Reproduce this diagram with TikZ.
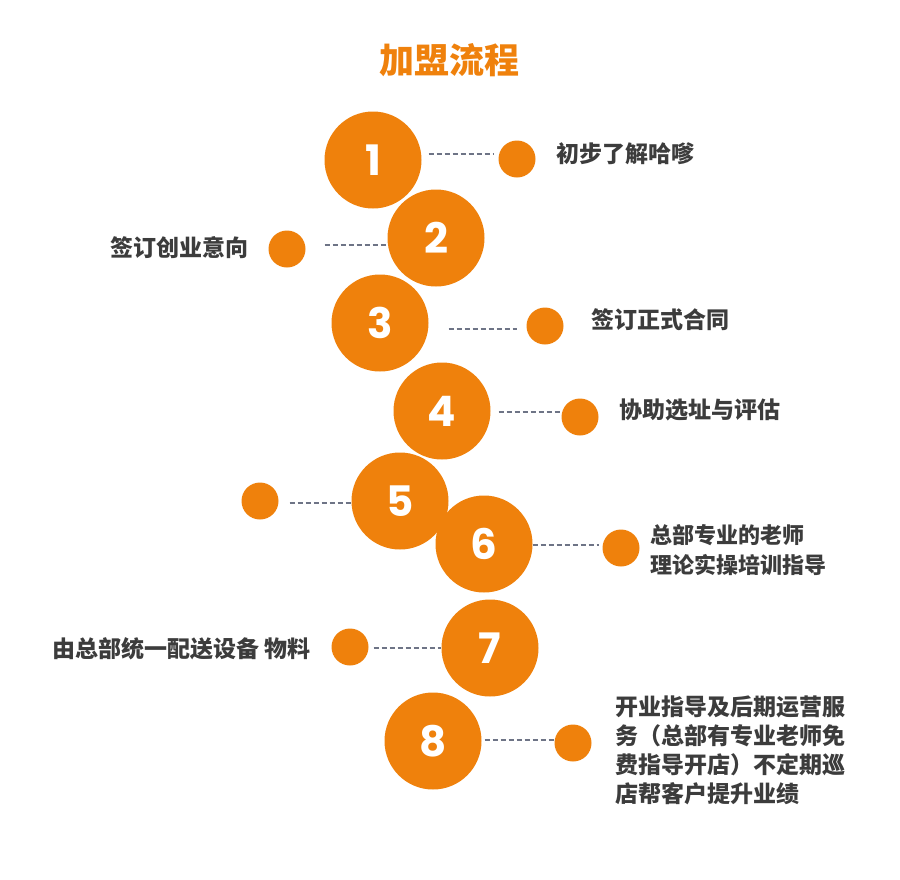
\documentclass[tikz,border=0pt]{standalone}
\usepackage{fontspec}
\newfontfamily\cjk{Noto Sans CJK SC}
\newfontfamily\numfont{Poppins}
\definecolor{joinorange}{RGB}{239,129,12}
\definecolor{textgray}{RGB}{60,60,60}
\definecolor{dashgray}{RGB}{110,116,134}
\begin{document}
\begin{tikzpicture}[x=1pt,y=-1pt,
  bigdot/.style={circle,fill=joinorange,minimum size=97pt,inner sep=0pt,text=white,font=\numfont\bfseries\fontsize{42}{42}\selectfont},
  smalldot/.style={circle,fill=joinorange,minimum size=37pt,inner sep=0pt},
  label/.style={anchor=west,inner sep=0pt,align=left,text=textgray,font=\cjk\bfseries\fontsize{23}{29}\selectfont},
  link/.style={draw=dashgray,line width=1.3pt,dash pattern=on 5pt off 3pt}]
\useasboundingbox (0,0) rectangle (900,879);
\node[text=joinorange,font=\cjk\bfseries\fontsize{35}{35}\selectfont] (title) at (449,60) {加盟流程};
% big numbered circles
\node[bigdot] (c1) at (373,160) {1};
\node[bigdot] (c2) at (436,238) {2};
\node[bigdot] (c3) at (380,323) {3};
\node[bigdot] (c4) at (442,411) {4};
\node[bigdot] (c5) at (400,501) {5};
\node[bigdot] (c6) at (484,544) {6};
\node[bigdot] (c7) at (490,648) {7};
\node[bigdot] (c8) at (433,741) {8};
% small circles
\node[smalldot] (s1) at (517,159) {};
\node[smalldot] (s2) at (287,249) {};
\node[smalldot] (s3) at (545,326) {};
\node[smalldot] (s4) at (580,417) {};
\node[smalldot] (s5) at (260,501) {};
\node[smalldot] (s6) at (621,548) {};
\node[smalldot] (s7) at (350,647) {};
\node[smalldot] (s8) at (573,743) {};
% labels
\node[label] (t1) at (556,154) {初步了解哈嗲};
\node[label] (t2) at (110,248) {签订创业意向};
\node[label] (t3) at (591,320) {签订正式合同};
\node[label] (t4) at (619,410) {协助选址与评估};
\node[label,font=\cjk\bfseries\fontsize{22}{30}\selectfont] (t6) at (650,550) {总部专业的老师\\理论实操培训指导};
\node[label] (t7) at (52,649) {由总部统一配送设备 物料};
\node[label] (t8) at (615,750) {开业指导及后期运营服\\务（总部有专业老师免\\费指导开店）不定期巡\\店帮客户提升业绩};
% dashed connectors
\draw[link] ([xshift=7pt,yshift=6pt]c1.east) -- ([xshift=-5pt,yshift=5pt]s1.west);
\draw[link] ([xshift=19pt,yshift=4pt]s2.east) -- ([yshift=-7pt]c2.west);
\draw[link] ([xshift=20pt,yshift=-6pt]c3.east) -- ([xshift=-9pt,yshift=-3pt]s3.west);
\draw[link] ([xshift=8pt,yshift=-1pt]c4.east) -- ([yshift=5pt]s4.west);
\draw[link] ([xshift=11pt,yshift=-2pt]s5.east) -- ([xshift=1pt,yshift=-2pt]c5.west);
\draw[link] ([yshift=-1pt]c6.east) -- ([xshift=-3pt,yshift=3pt]s6.west);
\draw[link] ([xshift=5pt,yshift=-1pt]s7.east) -- (c7.west);
\draw[link] ([xshift=3pt,yshift=1pt]c8.east) -- ([yshift=3pt]s8.west);
\end{tikzpicture}
\end{document}
